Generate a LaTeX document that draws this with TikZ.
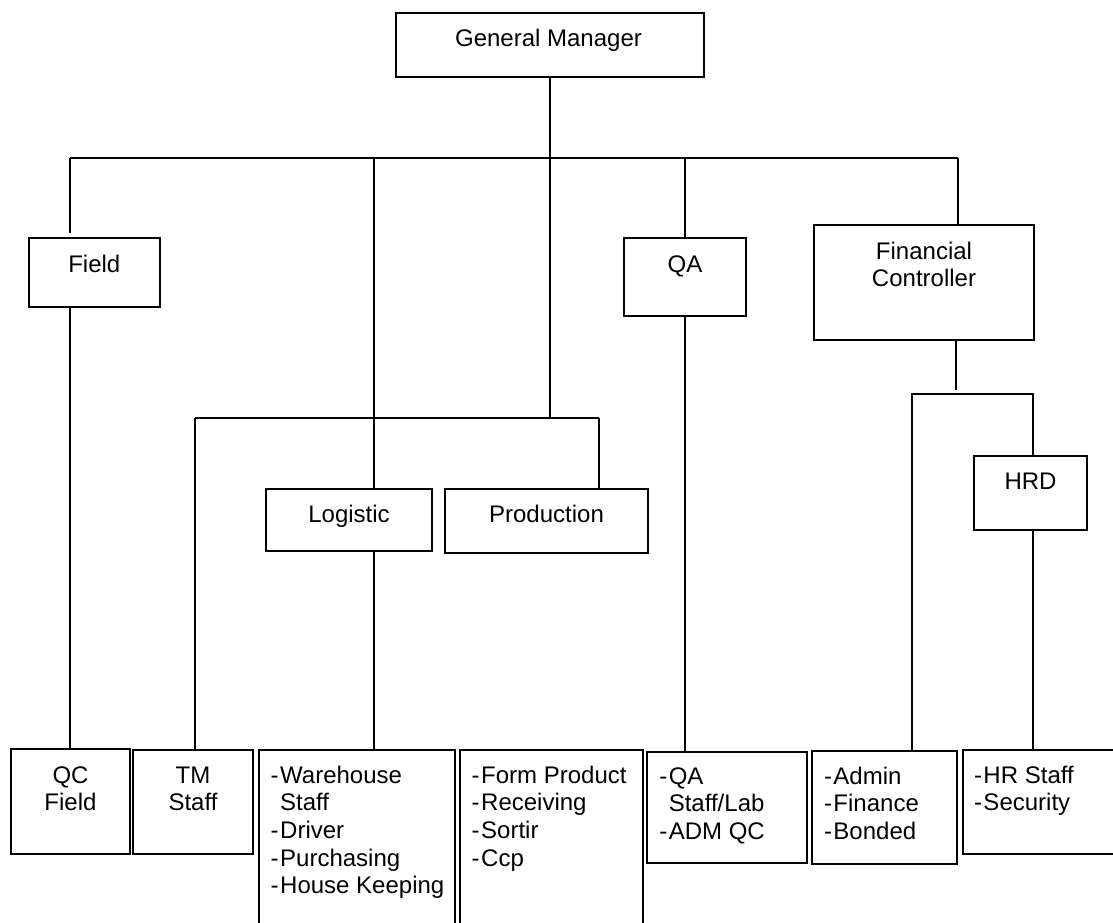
\documentclass[tikz,border=0pt]{standalone}
\usepackage{fontspec}
\setmainfont{Liberation Sans}
\newcommand\dashit{\makebox[9.5pt][l]{-}}
\newcommand\dashin{\hspace*{9.5pt}}
\begin{document}
\begin{tikzpicture}[x=1pt,y=-1pt,line width=2pt,
  box/.style={draw, rectangle, inner sep=0pt, line width=2pt},
  txt/.style={inner sep=0pt, font=\fontsize{24}{27.6}\selectfont},
  conn/.style={draw, line width=2pt}]
\path[use as bounding box, clip] (0,0) rectangle (1113,923);
\fill[white] (0,0) rectangle (1113,923);
% boxes
\node[box, minimum width=308pt, minimum height=64pt] (gm) at (550,45) {};
\node[box, minimum width=131pt, minimum height=69pt] (field) at (94.5,272.5) {};
\node[box, minimum width=122pt, minimum height=78pt] (qa) at (685,277) {};
\node[box, minimum width=220pt, minimum height=115pt] (fc) at (924,282.5) {};
\node[box, minimum width=166pt, minimum height=62pt] (logi) at (349,520) {};
\node[box, minimum width=203pt, minimum height=64pt] (prod) at (546.5,521) {};
\node[box, minimum width=113pt, minimum height=74pt] (hrd) at (1030.5,493) {};
\node[box, minimum width=119pt, minimum height=105pt] (qcf) at (70.5,801.5) {};
\node[box, minimum width=120pt, minimum height=104pt] (tm) at (193,802) {};
\node[box, minimum width=196pt, minimum height=190pt] (wh) at (357,845) {};
\node[box, minimum width=183pt, minimum height=190pt] (form) at (551.5,845) {};
\node[box, minimum width=160pt, minimum height=111pt] (qas) at (727,807.5) {};
\node[box, minimum width=145pt, minimum height=113pt] (adm) at (884.5,807.5) {};
\node[box, minimum width=167pt, minimum height=104pt] (hr) at (1046.5,802) {};
% texts
\node[txt, anchor=base] (gmT) at (548.5,46.7) {General Manager};
\node[txt, anchor=base] (fieldT) at (94.3,272.7) {Field};
\node[txt, anchor=base] (qaT) at (685,272.7) {QA};
\node[txt, anchor=base] (fcT) at (924,259.3) {\begin{tabular}[t]{@{}c@{}}Financial\\Controller\end{tabular}};
\node[txt, anchor=base] (logiT) at (349,522.3) {Logistic};
\node[txt, anchor=base] (prodT) at (546.5,522.3) {Production};
\node[txt, anchor=base] (hrdT) at (1030.5,489.3) {HRD};
\node[txt, anchor=base] (qcfT) at (70.5,783.3) {\begin{tabular}[t]{@{}c@{}}QC\\Field\end{tabular}};
\node[txt, anchor=base] (tmT) at (193,783.3) {\begin{tabular}[t]{@{}c@{}}TM\\Staff\end{tabular}};
\node[txt, anchor=base west] (whT) at (269.7,783.3) {\begin{tabular}[t]{@{}l@{}}\dashit Warehouse\\\dashin Staff\\\dashit Driver\\\dashit Purchasing\\\dashit House Keeping\end{tabular}};
\node[txt, anchor=base west] (formT) at (470.7,783.3) {\begin{tabular}[t]{@{}l@{}}\dashit Form Product\\\dashit Receiving\\\dashit Sortir\\\dashit Ccp\end{tabular}};
\node[txt, anchor=base west] (qasT) at (658.3,784.3) {\begin{tabular}[t]{@{}l@{}}\dashit QA\\\dashin Staff/Lab\\\dashit ADM QC\end{tabular}};
\node[txt, anchor=base west] (admT) at (823,784.3) {\begin{tabular}[t]{@{}l@{}}\dashit Admin\\\dashit Finance\\\dashit Bonded\end{tabular}};
\node[txt, anchor=base west] (hrT) at (973,783.3) {\begin{tabular}[t]{@{}l@{}}\dashit HR Staff\\\dashit Security\end{tabular}};
% junction coordinates
\coordinate (tL) at (70,158);
\coordinate (tR) at (958,158);
\coordinate (jLog) at (374,418);
\coordinate (lL) at (195,418);
\coordinate (lR) at (599,418);
\coordinate (fcJ) at (956,390);
\coordinate (hL) at (912,394);
\coordinate (hR) at (1033,394);
% connectors
\draw[conn] (tL) -- (tR);
\draw[conn] (gm.south) -- (gm.south |- jLog);
\draw[conn] (tL) -- ([yshift=4pt]tL |- field.north);
\draw[conn] (jLog |- tL) -- (jLog);
\draw[conn] (qa.north |- tL) -- (qa.north);
\draw[conn] (tR) -- (tR |- fc.north);
\draw[conn] (lL) -- (lR);
\draw[conn] (lL) -- (lL |- tm.north);
\draw[conn] (jLog) -- (jLog |- logi.north);
\draw[conn] (lR) -- (lR |- prod.north);
\draw[conn] (tL |- field.south) -- (tL |- qcf.north);
\draw[conn] (jLog |- logi.south) -- (jLog |- wh.north);
\draw[conn] (qa.south) -- (qa.south |- qas.north);
\draw[conn] (fcJ |- fc.south) -- (fcJ);
\draw[conn] (hL |- adm.north) -- (hL) -- (hR) -- (hR |- hrd.north);
\draw[conn] (hR |- hrd.south) -- (hR |- hr.north);
\end{tikzpicture}
\end{document}
